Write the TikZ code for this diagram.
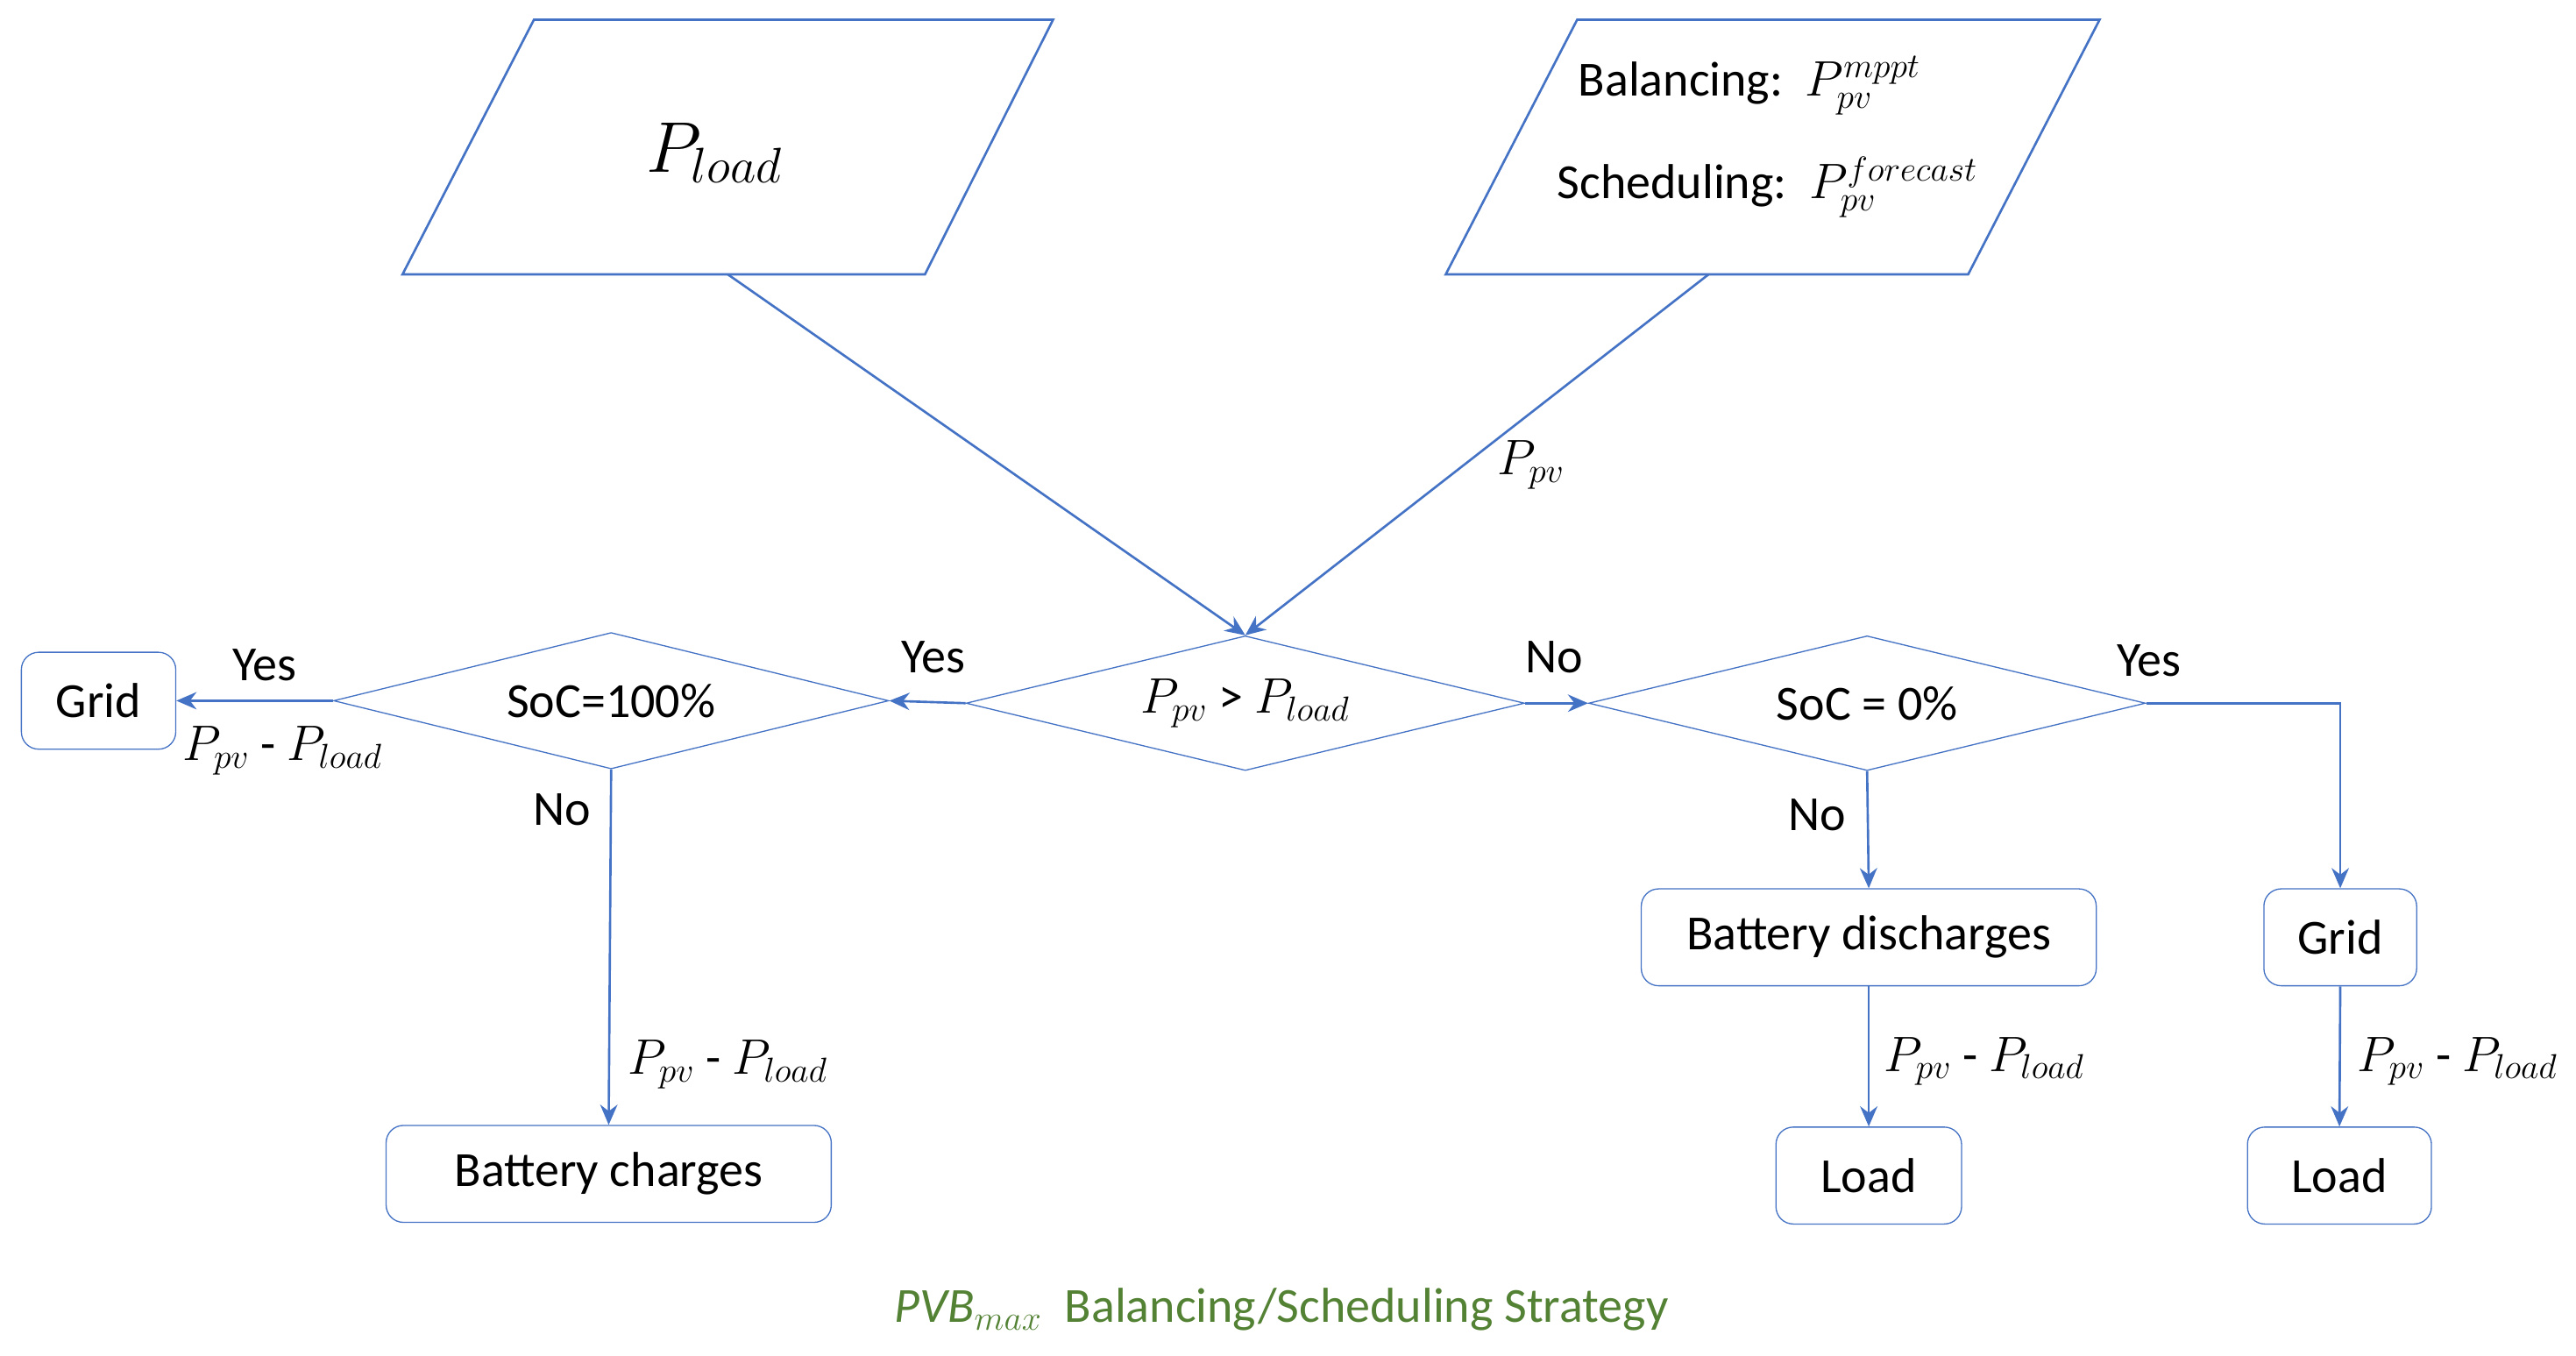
\documentclass[tikz,border=0pt]{standalone}
\usepackage{fontspec}
\setmainfont{Carlito}
\usetikzlibrary{shapes.geometric,arrows.meta}
\definecolor{lb}{RGB}{68,114,196}
\definecolor{gr}{RGB}{84,130,53}
\begin{document}
\begin{tikzpicture}[x=0.02cm,y=-0.02cm,
  every node/.style={font=\fontsize{17}{20}\selectfont},
  box/.style={draw=lb,rounded corners=6pt,minimum height=1.18cm,inner sep=0pt},
  dia/.style={draw=lb,diamond,inner sep=0pt,shape aspect=4.1},
  ar/.style={draw=lb,-{Stealth[length=7pt,width=6pt]},thick},
  lbl/.style={inner sep=1pt}]
\useasboundingbox (0,0) rectangle (1568,825);
\draw[lb,thick] (245,167)--(325,12)--(641,12)--(563,167)--cycle;
\draw[lb,thick] (880,167)--(960,12)--(1278,12)--(1198,167)--cycle;
\node[font=\fontsize{27}{30}\selectfont] (pl) at (435,93) {$P_{load}$};
\node (bal) at (1065,52) {Balancing:\ \ $P_{pv}^{mppt}$};
\node (sch) at (1076,114) {Scheduling:\ \ $P_{pv}^{forecast}$};
\coordinate (p1) at (443,167);
\coordinate (p2) at (1040,167);
\node[dia,minimum width=6.8cm,minimum height=1.64cm] (c) at (758,428) {$P_{pv}$ > $P_{load}$};
\node[dia,minimum width=6.76cm,minimum height=1.66cm] (l) at (372,426.5) {SoC=100\%};
\node[dia,minimum width=6.78cm,minimum height=1.64cm] (r) at (1136.5,428) {SoC = 0\%};
\node[box,minimum width=1.88cm] (gl) at (60,426.5) {Grid};
\node[box,minimum width=5.42cm] (bc) at (370.5,714.5) {Battery charges};
\node[box,minimum width=5.54cm] (bd) at (1137.5,570.5) {Battery discharges};
\node[box,minimum width=1.86cm] (gr) at (1424.5,570.5) {Grid};
\node[box,minimum width=2.26cm] (ld1) at (1137.5,715.5) {Load};
\node[box,minimum width=2.24cm] (ld2) at (1424,715.5) {Load};
\draw[ar] (p1) -- (c.north);
\draw[ar] (p2) -- (c.north);
\node[lbl] (lpv) at (932,283) {$P_{pv}$};
\draw[ar] (c.west) -- (l.east);
\node[lbl] (y1) at (568,400) {Yes};
\draw[ar] (c.east) -- (r.west);
\node[lbl] (n1) at (946,400) {No};
\draw[ar] (l.west) -- (gl.east);
\node[lbl] (y2) at (161,405) {Yes};
\node[lbl] (d1) at (172,457) {$P_{pv}$ - $P_{load}$};
\draw[ar] (l.south) -- (bc.north);
\node[lbl] (n2) at (342,493) {No};
\node[lbl] (d2) at (443,648) {$P_{pv}$ - $P_{load}$};
\draw[ar] (r.south) -- (bd.north);
\node[lbl] (n3) at (1106,496) {No};
\draw[ar] (r.east) -| (gr.north);
\node[lbl] (y3) at (1308,402) {Yes};
\draw[ar] (bd.south) -- (ld1.north);
\node[lbl] (d3) at (1208,646) {$P_{pv}$ - $P_{load}$};
\draw[ar] (gr.south) -- (ld2.north);
\node[lbl] (d4) at (1496,646) {$P_{pv}$ - $P_{load}$};
\node[text=gr] (cap) at (780,797) {$\mathit{PVB}_{max}$\ \ Balancing/Scheduling Strategy};
\end{tikzpicture}
\end{document}
